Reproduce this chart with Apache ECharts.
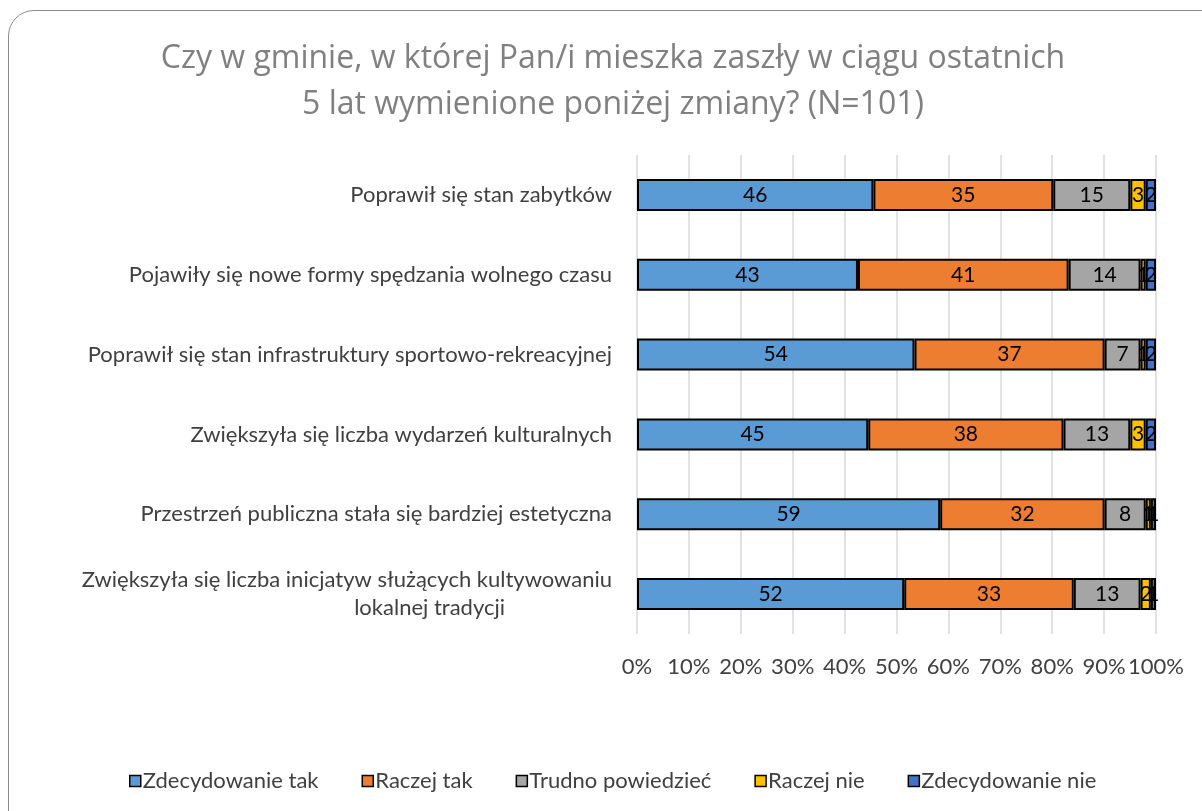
<!DOCTYPE html>
<html>
<head>
<meta charset="utf-8">
<script src="https://cdn.jsdelivr.net/npm/echarts@6/dist/echarts.min.js"></script>
<style>
  html, body { margin: 0; padding: 0; background: #fff; overflow: hidden; }
  #frame {
    position: absolute; left: 8px; top: 10px; width: 1300px; height: 900px;
    border: 1.5px solid #8c8c8c; border-radius: 26px; box-sizing: border-box;
  }
  #chart { position: absolute; left: 0; top: 0; width: 1202px; height: 811px; }
</style>
</head>
<body>
<div id="frame"></div>
<div id="chart"></div>
<script>
// answers counted out of N = 101
const categories = [
  "Poprawił się stan zabytków",
  "Pojawiły się nowe formy spędzania wolnego czasu",
  "Poprawił się stan infrastruktury sportowo-rekreacyjnej",
  "Zwiększyła się liczba wydarzeń kulturalnych",
  "Przestrzeń publiczna stała się bardziej estetyczna",
  "Zwiększyła się liczba inicjatyw służących kultywowaniu\nlokalnej tradycji",
];
const seriesNames = ["Zdecydowanie tak", "Raczej tak", "Trudno powiedzieć", "Raczej nie", "Zdecydowanie nie"];
const zdecydowanieTak = [46, 43, 54, 45, 59, 52];
const raczejTak = [35, 41, 37, 38, 32, 33];
const trudnoPowiedziec = [15, 14, 7, 13, 8, 13];
const raczejNie = [3, 1, 1, 3, 1, 2];
const zdecydowanieNie = [2, 2, 2, 2, 1, 1];
const N = 101;

const COLORS = ["#5b9bd5", "#ed7d31", "#a5a5a5", "#ffc000", "#4472c4"];
const FONT = "Lato, sans-serif";
const FS = 22;

const chart = echarts.init(document.getElementById("chart"), null, { renderer: "canvas" });

const values = [zdecydowanieTak, raczejTak, trudnoPowiedziec, raczejNie, zdecydowanieNie];

chart.setOption({
  animation: false,
  color: COLORS,
  title: {
    text: "Czy w gminie, w której Pan/i mieszka zaszły w ciągu ostatnich\n5 lat wymienione poniżej zmiany? (N=101)",
    left: 608,
    textAlign: "center",
    top: 31,
    textStyle: { color: "#808080", fontSize: 32, fontWeight: "normal", fontFamily: "Open Sans, sans-serif", lineHeight: 46 },
  },
  legend: {
    bottom: 14,
    left: 124,
    itemWidth: 11,
    itemHeight: 11,
    itemGap: 43,
    icon: "rect",
    textStyle: { color: "#404040", fontSize: FS, fontFamily: FONT, padding: [0, 0, 0, -3] },
    data: seriesNames.map((n, i) => ({ name: n, itemStyle: { color: COLORS[i], borderColor: "#000", borderWidth: 1.5 } })),
  },
  grid: { left: 637, right: 46, top: 155, bottom: 177 },
  xAxis: {
    type: "value",
    min: 0,
    max: N,
    interval: N / 10,
    axisLine: { show: false },
    axisTick: { show: false },
    splitLine: { lineStyle: { color: "#d9d9d9", width: 1.5 } },
    axisLabel: {
      color: "#404040",
      fontSize: FS,
      fontFamily: FONT,
      margin: 22,
      formatter: (v) => Math.round((v / N) * 100) + "%",
    },
  },
  yAxis: {
    type: "category",
    inverse: true,
    data: categories,
    axisLine: { show: false },
    axisTick: { show: false },
    axisLabel: {
      margin: 25,
      color: "#404040",
      fontSize: FS,
      fontFamily: FONT,
      lineHeight: 28,
      formatter: (v) => {
        const parts = v.split("\n");
        if (parts.length === 1) return v;
        return "{a|" + parts[0] + "}\n{b|" + parts[1] + "}";
      },
      rich: {
        a: { fontSize: FS, fontFamily: FONT, color: "#404040", lineHeight: 28 },
        b: { fontSize: FS, fontFamily: FONT, color: "#404040", lineHeight: 28, padding: [0, 107, 0, 0] },
      },
    },
  },
  series: seriesNames.map((name, i) => ({
    name,
    type: "bar",
    stack: "all",
    barWidth: 32,
    data: values[i],
    itemStyle: { color: COLORS[i], borderColor: "#000", borderWidth: 2 },
    label: {
      show: true,
      position: "inside",
      color: "#000",
      fontSize: 21,
      fontFamily: FONT,
    },
  })),
});
</script>
</body>
</html>
